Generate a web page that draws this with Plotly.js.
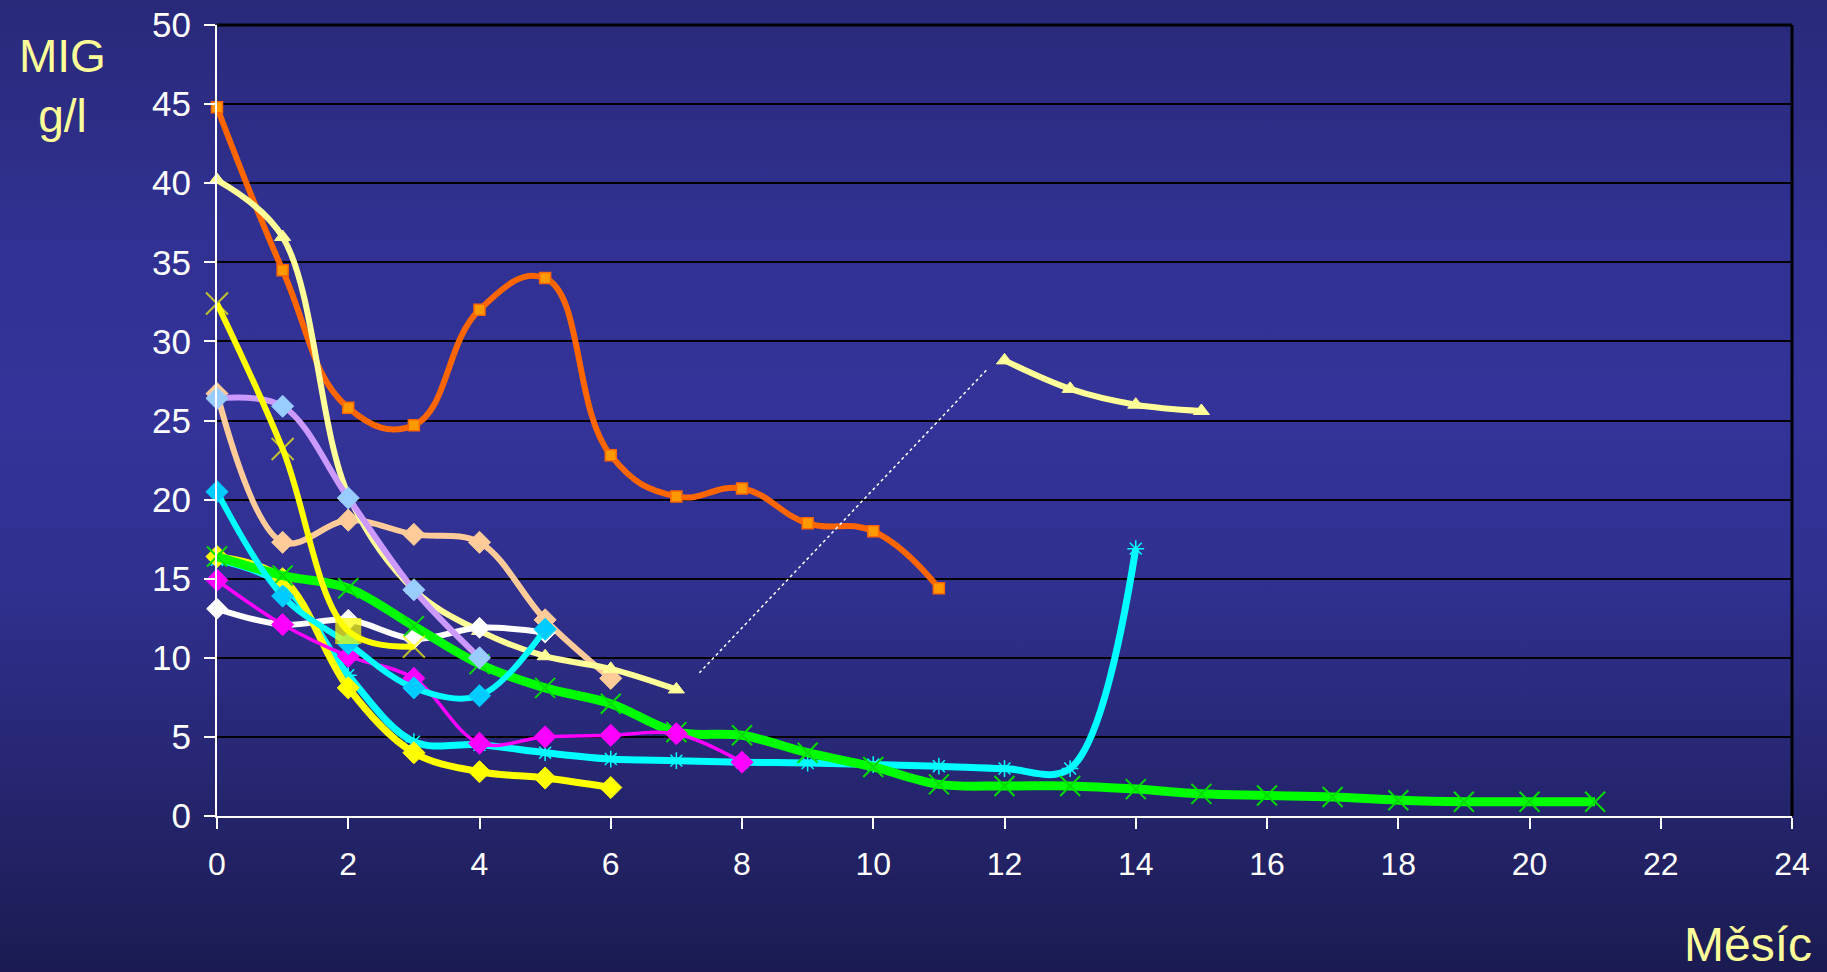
<!DOCTYPE html>
<html>
<head>
<meta charset="utf-8">
<script src="https://cdn.plot.ly/plotly-3.0.1.min.js"></script>
<style>
  html, body { margin: 0; padding: 0; }
  body {
    width: 1827px; height: 972px; overflow: hidden;
    background: linear-gradient(to bottom, #29297a 0%, #313193 25%, #333399 42%, #303090 60%, #25256e 82%, #1b1b52 100%);
  }
  #chart { width: 1827px; height: 972px; }
</style>
</head>
<body>
<div id="chart"></div>
<script>
// Months (x)
const months = [0,1,2,3,4,5,6,7,8,9,10,11,12,13,14,15,16,17,18,19,20,21];

// Series values (MIG g/l)
const orangeX = [0,1,2,3,4,5,6,7,8,9,10,11];
const orangeY = [44.8,34.5,25.8,24.7,32.0,34.0,22.8,20.2,20.7,18.5,18.0,14.4];

const lightYellowX = [0,1,2,3,4,5,6,7,null,12,13,14,15];
const lightYellowY = [40.2,36.6,20.3,14.3,11.7,10.1,9.3,8.0,null,28.8,27.0,26.0,25.6];

const yellowXX = [0,1,2,3];
const yellowXY = [32.4,23.2,11.7,10.7];

const yellowDiaX = [0,1,2,3,4,5,6];
const yellowDiaY = [16.4,15.0,8.1,4.0,2.8,2.4,1.8];

const greenX = months;
const greenY = [16.4,15.2,14.4,12.0,9.6,8.1,7.1,5.3,5.1,4.0,3.1,2.0,1.9,1.9,1.7,1.4,1.3,1.2,1.0,0.9,0.9,0.9];

const cyanX = [0,1,2,3,4,5,6,7,8,9,10,11,12,13,14];
const cyanY = [16.2,14.6,8.9,4.7,4.5,4.0,3.6,3.5,3.4,3.35,3.25,3.15,3.0,3.0,16.9];

const skyX = [0,1,2,3,4,5];
const skyY = [20.5,13.9,10.9,8.1,7.6,11.8];

const magentaX = [0,1,2,3,4,5,6,7,8];
const magentaY = [14.9,12.1,10.1,8.7,4.6,5.0,5.1,5.2,3.4];

const whiteX = [0,1,2,3,4,5];
const whiteY = [13.1,12.1,12.4,11.2,11.9,11.6];

const purpleX = [0,1,2,3,4];
const purpleY = [26.4,25.9,20.1,14.3,10.0];

const peachX = [0,1,2,3,4,5,6];
const peachY = [26.7,17.3,18.7,17.8,17.3,12.4,8.7];

// dotted connector across the gap
const gapX = [7.35,11.75];
const gapY = [9.05,28.3];

const xTicks = [0,2,4,6,8,10,12,14,16,18,20,22,24];
const yTicks = [0,5,10,15,20,25,30,35,40,45,50];

const FONT = '"Liberation Sans", Arial, Helvetica, sans-serif';

function sp(x, y, lineColor, lineWidth, marker, smoothing) {
  return {
    x: x, y: y, type: 'scatter', mode: 'lines+markers',
    line: {color: lineColor, width: lineWidth, shape: 'spline', smoothing: smoothing || 1},
    marker: marker, connectgaps: false, cliponaxis: false, hoverinfo: 'x+y'
  };
}

const traces = [
  sp(orangeX, orangeY, '#FF6600', 6, {symbol: 'square', size: 11, color: '#FF9900', line: {color: '#FF6600', width: 1.5}}, 1.25),
  sp(peachX, peachY, '#FFCC99', 6, {symbol: 'diamond', size: 17, color: '#FFCC99', line: {color: '#FFCC99', width: 1}}),
  sp(lightYellowX, lightYellowY, '#FFFF99', 6, {symbol: 'triangle-up', size: 14, color: '#FFFF99', line: {color: '#FFFF99', width: 1}}),
  sp(whiteX, whiteY, '#FFFFFF', 6, {symbol: 'diamond', size: 16, color: '#FFFFFF', line: {color: '#FFFFFF', width: 1}}),
  sp(cyanX, cyanY, '#00FFFF', 7, {symbol: 'asterisk-open', size: 14, color: '#00FFFF', line: {color: '#00E5FF', width: 1.5}}),
  sp(yellowDiaX, yellowDiaY, '#FFFF00', 7, {symbol: 'diamond', size: 17, color: '#FFFF00', line: {color: '#FFFF00', width: 1}}),
  sp(greenX, greenY, '#00FF00', 9, {symbol: 'x-thin-open', size: 20, color: '#00DD00', line: {color: '#00DD00', width: 2}}),
  sp(magentaX, magentaY, '#FF00FF', 3.5, {symbol: 'diamond', size: 17, color: '#FF00FF', line: {color: '#FF00FF', width: 1}}),
  sp(skyX, skyY, '#00FFFF', 6, {symbol: 'diamond', size: 17, color: '#00CCFF', line: {color: '#00CCFF', width: 1}}),
  sp(purpleX, purpleY, '#CC99FF', 6, {symbol: 'diamond', size: 17, color: '#99CCFF', line: {color: '#99CCFF', width: 1}}),
  sp(yellowXX, yellowXY, '#FFFF00', 6, {
    symbol: ['x-thin-open','x-thin-open','square','x-thin-open'],
    size: [22,22,24,22], color: '#FFFF00', line: {color: '#FFFF00', width: 2}
  }),
  {x: gapX, y: gapY, type: 'scatter', mode: 'lines',
   line: {color: '#FFFFFF', width: 1.5, dash: 'dot'}, hoverinfo: 'skip'}
];

const layout = {
  width: 1827, height: 972,
  margin: {l: 217, r: 35, t: 25, b: 156, pad: 0},
  paper_bgcolor: 'rgba(0,0,0,0)',
  plot_bgcolor: 'rgba(0,0,0,0)',
  showlegend: false,
  font: {family: FONT, color: '#FFFFFF'},
  xaxis: {
    range: [0, 24], tickvals: xTicks, ticktext: xTicks.map(String),
    showgrid: false, zeroline: false,
    showline: true, linecolor: '#FFFFFF', linewidth: 2,
    ticks: 'outside', ticklen: 11, tickwidth: 2, tickcolor: '#FFFFFF',
    tickfont: {family: FONT, size: 32, color: '#FFFFFF'},
    ticklabelstandoff: 8
  },
  yaxis: {
    range: [0, 50], tickvals: yTicks, ticktext: yTicks.map(String),
    showgrid: true, gridcolor: '#000000', gridwidth: 2, zeroline: false,
    showline: true, linecolor: '#FFFFFF', linewidth: 2,
    ticks: 'outside', ticklen: 11, tickwidth: 2, tickcolor: '#FFFFFF',
    tickfont: {family: FONT, size: 35, color: '#FFFFFF'},
    ticklabelstandoff: 6
  },
  shapes: [
    {type: 'line', xref: 'paper', yref: 'paper', x0: 0, x1: 1, y0: 1, y1: 1, line: {color: '#000000', width: 3}, layer: 'below'},
    {type: 'line', xref: 'paper', yref: 'paper', x0: 1, x1: 1, y0: 0, y1: 1, line: {color: '#000000', width: 3}, layer: 'below'}
  ],
  annotations: [
    {text: 'MIG<br>g/l', xref: 'paper', yref: 'paper', x: -0.0984, y: 0.9235,
     xanchor: 'center', yanchor: 'middle', showarrow: false, align: 'center',
     font: {family: FONT, size: 46, color: '#FFFF99'}},
    {text: 'Měsíc', xref: 'paper', yref: 'paper', x: 1.014, y: -0.162,
     xanchor: 'right', yanchor: 'middle', showarrow: false,
     font: {family: FONT, size: 48, color: '#FFFF99'}}
  ]
};

Plotly.newPlot('chart', traces, layout, {displayModeBar: false, staticPlot: true});
</script>
</body>
</html>
